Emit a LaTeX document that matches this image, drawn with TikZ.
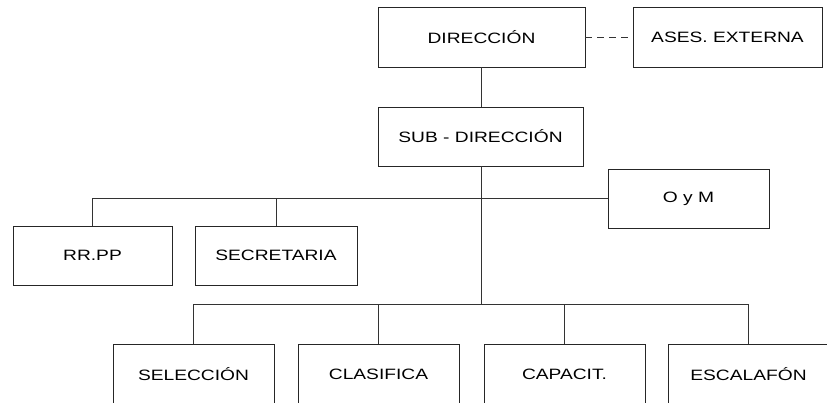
\documentclass[tikz,border=0pt]{standalone}
\usepackage{fontspec}
\setmainfont{Liberation Sans}[FakeStretch=1.28]
\begin{document}
\begin{tikzpicture}[x=1pt,y=-1pt,
  box/.style={draw=black!85, line width=0.8pt, rectangle, inner sep=0pt, font=\fontsize{15}{18}\selectfont},
  conn/.style={draw=black!80, line width=0.8pt}]
\useasboundingbox (0,0) rectangle (827,403);
\node[box, minimum width=207pt, minimum height=60pt] (dir) at (481.5,37) {DIRECCIÓN};
\node[box, minimum width=189pt, minimum height=60pt] (ases) at (727.5,37) {ASES. EXTERNA};
\node[box, minimum width=205pt, minimum height=59pt] (sub) at (480.5,136.5) {SUB - DIRECCIÓN};
\node[box, minimum width=161pt, minimum height=59pt] (oym) at (688.5,198.5) {O y M};
\node[box, minimum width=159pt, minimum height=59pt] (rrpp) at (92.5,255.5) {RR.PP};
\node[box, minimum width=162pt, minimum height=59pt] (secr) at (276,255.5) {SECRETARIA};
\node[box, minimum width=161pt, minimum height=60pt] (sel) at (193.5,374) {SELECCIÓN};
\node[box, minimum width=161pt, minimum height=60pt] (clas) at (378.5,374) {CLASIFICA};
\node[box, minimum width=161pt, minimum height=60pt] (cap) at (564.5,374) {CAPACIT.};
\node[box, minimum width=161pt, minimum height=60pt] (esc) at (748.5,374) {ESCALAFÓN};
\coordinate (b2) at (481,304);
\draw[conn] (dir.south) -- (dir.south |- sub.north);
\draw[conn, dash pattern=on 7pt off 5pt] (dir.east) -- (ases.west);
\draw[conn] (sub.south -| b2) -- (b2);
\draw[conn] (rrpp.north) |- (oym.west);
\draw[conn] (secr.north) -- (secr.north |- oym.west);
\draw[conn] (sel.north) |- (b2);
\draw[conn] (esc.north) |- (b2);
\draw[conn] (clas.north) -- (clas.north |- b2);
\draw[conn] (cap.north) -- (cap.north |- b2);
\end{tikzpicture}
\end{document}
